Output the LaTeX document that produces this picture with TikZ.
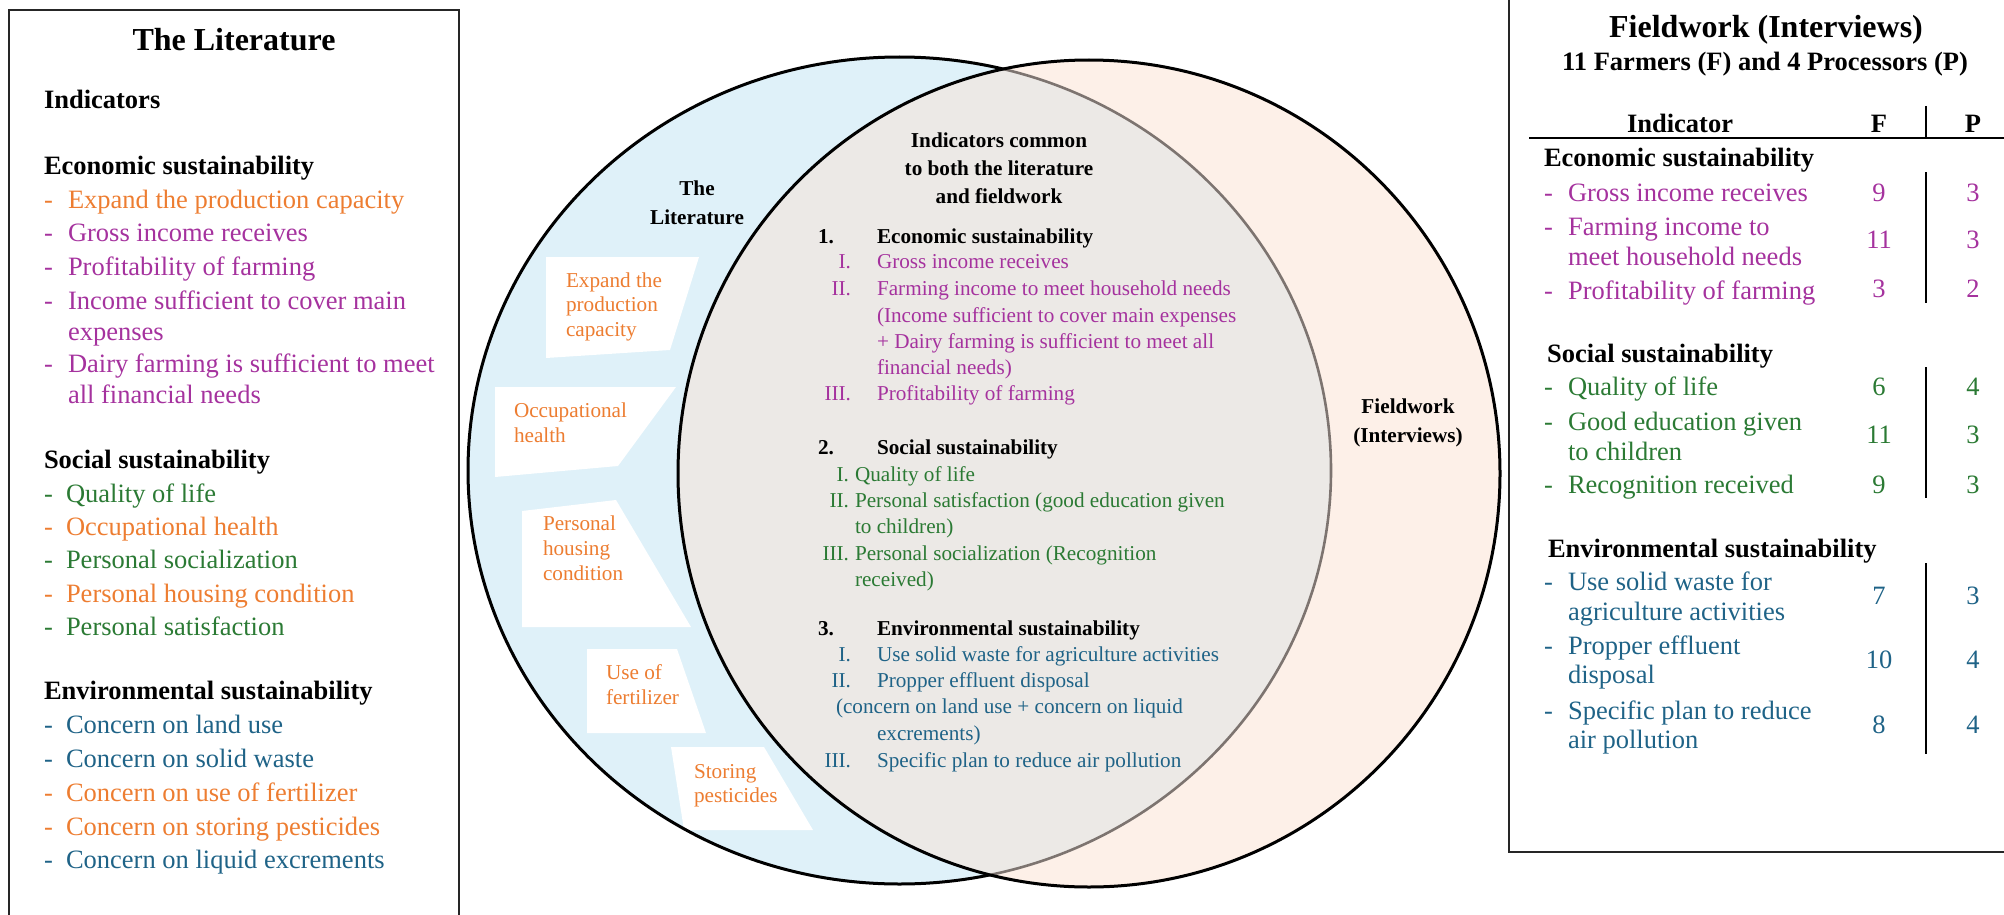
\documentclass[tikz,border=0pt]{standalone}
\usepackage{fontspec}
\setmainfont{Liberation Serif}

\definecolor{cOrange}{RGB}{237,125,49}
\definecolor{cPurple}{RGB}{165,50,158}
\definecolor{cGreen}{RGB}{43,122,52}
\definecolor{cBlue}{RGB}{31,99,135}
\definecolor{fillBlue}{RGB}{223,241,249}
\definecolor{fillPeach}{RGB}{253,240,232}
\definecolor{fillGray}{RGB}{236,233,230}
\definecolor{arcGray}{RGB}{125,116,112}

\newcommand\fsItem{\fontsize{26.5}{32}\selectfont}
\newcommand\fsHead{\fontsize{26.5}{32}\selectfont\bfseries}
\newcommand\fsTitle{\fontsize{32}{38}\selectfont\bfseries}
\newcommand\fsMid{\fontsize{21.2}{25}\selectfont}
\newcommand\fsMidB{\fontsize{21.2}{25}\selectfont\bfseries}

\begin{document}
\begin{tikzpicture}[x=1pt,y=-1pt,
  txt/.style={inner sep=0pt, outer sep=0pt},
  item/.style={txt, anchor=base west, font=\fsItem},
  head/.style={txt, anchor=base west, font=\fsHead},
  numf/.style={txt, anchor=base, font=\fsItem},
  mid/.style={txt, anchor=base west, font=\fsMid},
  midnum/.style={txt, anchor=base east, font=\fsMid},
  midhead/.style={txt, anchor=base west, font=\fsMidB},
  midc/.style={txt, anchor=base, font=\fsMidB},
  tag/.style={txt, anchor=base west, font=\fsMid, cOrange},
  patch/.style={fill=white, draw=none},
  frame/.style={draw=black!85, line width=1.8pt},
  rule/.style={draw=black, line width=2.6pt},
  ring/.style={draw=black, line width=3pt},
]
\useasboundingbox (0,0) rectangle (2004,915);
\clip (0,0) rectangle (2004,915);

% ---------- Venn diagram ----------
\fill[fillBlue]  (899.5,470.5) ellipse [x radius=431.5pt, y radius=413.5pt];
\fill[fillPeach] (1089,473.5) ellipse [x radius=411pt, y radius=413.5pt];
\begin{scope}
  \clip (1089,473.5) ellipse [x radius=411pt, y radius=413.5pt];
  \fill[fillGray] (899.5,470.5) ellipse [x radius=431.5pt, y radius=413.5pt];
\end{scope}

% white label patches in the literature-only part
\fill[patch] (546,257) -- (699,257) -- (670,350) -- (546,358) -- cycle;
\fill[patch] (495,387) -- (676,387) -- (618,466) -- (495,477) -- cycle;
\fill[patch] (522,511) -- (616,500) -- (691,627) -- (522,627) -- cycle;
\fill[patch] (587,649) -- (677,649) -- (706,733) -- (587,733) -- cycle;
\fill[patch] (671,747) -- (764,747) -- (813,830) -- (684,830) -- cycle;

% outlines: left set black outside the overlap, grey inside it
\begin{scope}[even odd rule]
  \clip (-50,-50) rectangle (2100,1000) (1089,473.5) ellipse [x radius=411pt, y radius=413.5pt];
  \draw[ring] (899.5,470.5) ellipse [x radius=431.5pt, y radius=413.5pt];
\end{scope}
\begin{scope}
  \clip (1089,473.5) ellipse [x radius=411pt, y radius=413.5pt];
  \draw[draw=arcGray, line width=2.6pt] (899.5,470.5) ellipse [x radius=431.5pt, y radius=413.5pt];
\end{scope}
\draw[ring] (1089,473.5) ellipse [x radius=411pt, y radius=413.5pt];

% labels in the patches
\node[tag] (e1) at (566,287) {Expand the};
\node[tag] (e2) at (566,311.5) {production};
\node[tag] (e3) at (566,336) {capacity};
\node[tag] (o1) at (514,417) {Occupational};
\node[tag] (o2) at (514,442) {health};
\node[tag] (h1) at (543,530) {Personal};
\node[tag] (h2) at (543,555) {housing};
\node[tag] (h3) at (543,580) {condition};
\node[tag] (f1) at (606,679) {Use of};
\node[tag] (f2) at (606,704) {fertilizer};
\node[tag] (s1) at (694,778) {Storing};
\node[tag] (s2) at (694,802) {pesticides};

% set names
\node[midc] (lit1) at (697,195) {The};
\node[midc] (lit2) at (697,224) {Literature};
\node[midc] (fw1) at (1408,413) {Fieldwork};
\node[midc] (fw2) at (1408,442) {(Interviews)};

% common indicators
\node[midc] (c1) at (999,147) {Indicators common};
\node[midc] (c2) at (999,175) {to both the literature};
\node[midc] (c3) at (999,203) {and fieldwork};

\node[midhead] (n1) at (818,243) {1.};
\node[midhead] (h1e) at (877,243) {Economic sustainability};
\begin{scope}[cPurple]
  \node[midnum] (r11) at (851,268) {I.};
  \node[mid] (t11) at (877,268) {Gross income receives};
  \node[midnum] (r12) at (851,295) {II.};
  \node[mid] (t12) at (877,295) {Farming income to meet household needs};
  \node[mid] (t12b) at (877,322) {(Income sufficient to cover main expenses};
  \node[mid] (t12c) at (877,348) {+ Dairy farming is sufficient to meet all};
  \node[mid] (t12d) at (877,374) {financial needs)};
  \node[midnum] (r13) at (851,400) {III.};
  \node[mid] (t13) at (877,400) {Profitability of farming};
\end{scope}

\node[midhead] (n2) at (818,454) {2.};
\node[midhead] (h2s) at (877,454) {Social sustainability};
\begin{scope}[cGreen]
  \node[midnum] (r21) at (849,481) {I.};
  \node[mid] (t21) at (855,481) {Quality of life};
  \node[midnum] (r22) at (849,507) {II.};
  \node[mid] (t22) at (855,507) {Personal satisfaction (good education given};
  \node[mid] (t22b) at (855,533) {to children)};
  \node[midnum] (r23) at (849,560) {III.};
  \node[mid] (t23) at (855,560) {Personal socialization (Recognition};
  \node[mid] (t23b) at (855,586) {received)};
\end{scope}

\node[midhead] (n3) at (818,635) {3.};
\node[midhead] (h3e) at (877,635) {Environmental sustainability};
\begin{scope}[cBlue]
  \node[midnum] (r31) at (851,661) {I.};
  \node[mid] (t31) at (877,661) {Use solid waste for agriculture activities};
  \node[midnum] (r32) at (851,687) {II.};
  \node[mid] (t32) at (877,687) {Propper effluent disposal};
  \node[mid] (t32b) at (836,713) {(concern on land use + concern on liquid};
  \node[mid] (t32c) at (877,740) {excrements)};
  \node[midnum] (r33) at (851,767) {III.};
  \node[mid] (t33) at (877,767) {Specific plan to reduce air pollution};
\end{scope}

% ---------- left panel: the literature ----------
\draw[frame] (9,930) -- (9,10) -- (459,10) -- (459,930);
\node[txt, anchor=base, font=\fsTitle] (ltitle) at (234,51) {The Literature};
\node[head] (lind) at (44,109) {Indicators};
\node[head] (lh1) at (44,174) {Economic sustainability};
\node[head] (lh2) at (44,468) {Social sustainability};
\node[head] (lh3) at (44,699) {Environmental sustainability};

\foreach \yy/\cc/\tt [count=\i] in {
  208/cOrange/{Expand the production capacity},
  241.5/cPurple/{Gross income receives},
  275/cPurple/{Profitability of farming},
  309/cPurple/{Income sufficient to cover main},
  372/cPurple/{Dairy farming is sufficient to meet}}
{
  \node[item,\cc] (lda\i) at (44,\yy) {-};
  \node[item,\cc] (lta\i) at (68,\yy) {\tt};
}
\node[item,cPurple] (lc1) at (68,340) {expenses};
\node[item,cPurple] (lc2) at (68,403) {all financial needs};

\foreach \yy/\cc/\tt [count=\i] in {
  502/cGreen/{Quality of life},
  535/cOrange/{Occupational health},
  568/cGreen/{Personal socialization},
  602/cOrange/{Personal housing condition},
  635/cGreen/{Personal satisfaction},
  733/cBlue/{Concern on land use},
  767/cBlue/{Concern on solid waste},
  801/cOrange/{Concern on use of fertilizer},
  835/cOrange/{Concern on storing pesticides},
  868/cBlue/{Concern on liquid excrements}}
{
  \node[item,\cc] (ldb\i) at (44,\yy) {-};
  \node[item,\cc] (ltb\i) at (66,\yy) {\tt};
}

% ---------- right panel: fieldwork ----------
\draw[frame] (1509,-20) -- (1509,852) -- (2030,852);
\node[txt, anchor=base, font=\fsTitle] (rtitle) at (1766,38) {Fieldwork (Interviews)};
\node[txt, anchor=base, font=\fsHead] (rsub) at (1765,71) {11 Farmers (F) and 4 Processors (P)};

\node[txt, anchor=base, font=\fsHead] (colI) at (1680,132) {Indicator};
\node[txt, anchor=base, font=\fsHead] (colF) at (1879,132) {F};
\node[txt, anchor=base, font=\fsHead] (colP) at (1973,132) {P};
\draw[rule] (1529,138) -- (2030,138);
\draw[line width=2.2pt] (1926,106) -- (1926,138);

\node[head] (rh1) at (1544,166) {Economic sustainability};
\node[head] (rh2) at (1547,362) {Social sustainability};
\node[head] (rh3) at (1548,557) {Environmental sustainability};

\foreach \yy/\cc/\tt [count=\i] in {
  201/cPurple/{Gross income receives},
  235/cPurple/{Farming income to},
  299/cPurple/{Profitability of farming},
  395/cGreen/{Quality of life},
  430/cGreen/{Good education given},
  493/cGreen/{Recognition received},
  590/cBlue/{Use solid waste for},
  654/cBlue/{Propper effluent},
  719/cBlue/{Specific plan to reduce}}
{
  \node[item,\cc] (rd\i) at (1544,\yy) {-};
  \node[item,\cc] (rt\i) at (1568,\yy) {\tt};
}
\node[item,cPurple] (rc1) at (1568,265) {meet household needs};
\node[item,cGreen]  (rc2) at (1568,460) {to children};
\node[item,cBlue]   (rc3) at (1568,620) {agriculture activities};
\node[item,cBlue]   (rc4) at (1568,683) {disposal};
\node[item,cBlue]   (rc5) at (1568,748) {air pollution};

\foreach \yy/\cc/\ff/\pp [count=\i] in {
  201/cPurple/9/3, 248/cPurple/11/3, 297/cPurple/3/2,
  395/cGreen/6/4, 443/cGreen/11/3, 493/cGreen/9/3,
  604/cBlue/7/3, 668/cBlue/10/4, 733/cBlue/8/4}
{
  \node[numf,\cc] (nf\i) at (1879,\yy) {\ff};
  \node[numf,\cc] (np\i) at (1973,\yy) {\pp};
}

\draw[line width=2.2pt] (1926,172) -- (1926,303);
\draw[line width=2.2pt] (1926,367) -- (1926,498);
\draw[line width=2.2pt] (1926,563) -- (1926,754);
\end{tikzpicture}
\end{document}
